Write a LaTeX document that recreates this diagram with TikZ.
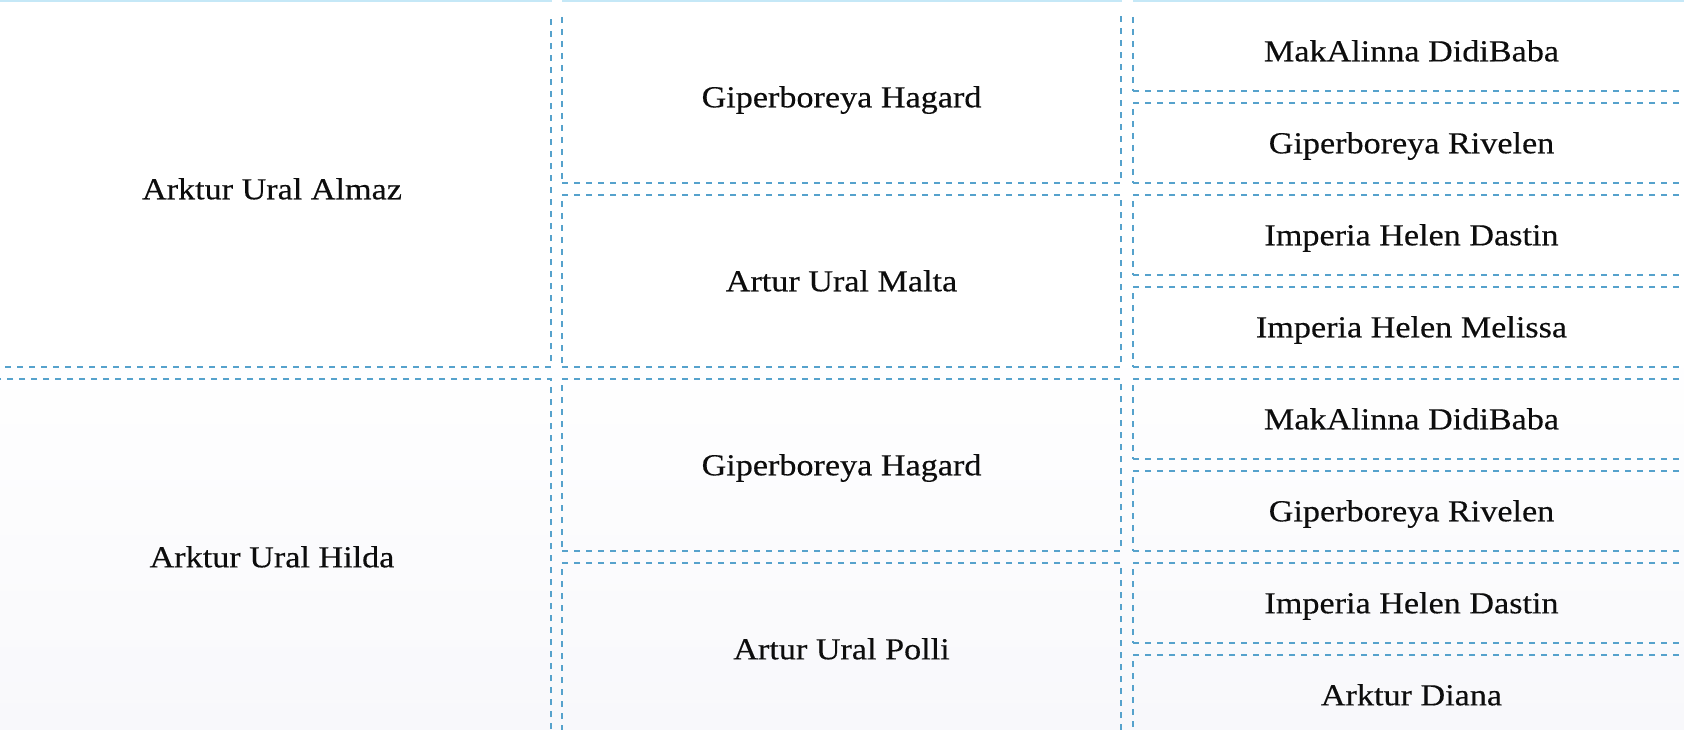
\documentclass[tikz,border=0pt]{standalone}
\usepackage{fontspec}
\setmainfont{Liberation Serif}[FakeStretch=1.12,FakeBold=0.35]
\definecolor{dashblue}{RGB}{86,162,204}
\definecolor{topblue}{RGB}{197,232,247}
\definecolor{bgbot}{RGB}{248,248,251}
\tikzset{
  cell/.style={draw=dashblue, line width=2.2pt, dash pattern=on 6pt off 6pt,
    inner sep=0pt, text height=30pt, text depth=9.4pt,
    font=\fontsize{30.5}{36}\selectfont, text=black!95},
  colA/.style={cell, minimum width=558pt},
  colB/.style={cell, minimum width=559pt},
  colC/.style={cell, minimum width=557pt},
  topline/.style={fill=topblue}
}
\begin{document}
\begin{tikzpicture}[x=1pt,y=-1pt]
\useasboundingbox (0,0) rectangle (1684,730);
\fill[white] (0,0) rectangle (1684,730);
\shade[top color=white, bottom color=bgbot] (0,340) rectangle (1684,730);
\begin{scope}
\clip (0,14) rectangle (1684,730);
% column 1
\node[colA, minimum height=356pt] (a1) at (272,189) {Arktur Ural Almaz};
\node[colA, minimum height=356pt] (a2) at (272,557) {Arktur Ural Hilda};
% column 2
\node[colB, minimum height=172pt] (b1) at (841.5,97) {Giperboreya Hagard};
\node[colB, minimum height=172pt] (b2) at (841.5,281) {Artur Ural Malta};
\node[colB, minimum height=172pt] (b3) at (841.5,465) {Giperboreya Hagard};
\node[colB, minimum height=172pt] (b4) at (841.5,649) {Artur Ural Polli};
% column 3
\node[colC, minimum height=80pt] (c1) at (1411.5,51) {MakAlinna DidiBaba};
\node[colC, minimum height=80pt] (c2) at (1411.5,143) {Giperboreya Rivelen};
\node[colC, minimum height=80pt] (c3) at (1411.5,235) {Imperia Helen Dastin};
\node[colC, minimum height=80pt] (c4) at (1411.5,327) {Imperia Helen Melissa};
\node[colC, minimum height=80pt] (c5) at (1411.5,419) {MakAlinna DidiBaba};
\node[colC, minimum height=80pt] (c6) at (1411.5,511) {Giperboreya Rivelen};
\node[colC, minimum height=80pt] (c7) at (1411.5,603) {Imperia Helen Dastin};
\node[colC, minimum height=80pt] (c8) at (1411.5,695) {Arktur Diana};
\end{scope}
\fill[topline] (0,0) rectangle (552,2);
\fill[topline] (562,0) rectangle (1122,2);
\fill[topline] (1133,0) rectangle (1684,2);
\end{tikzpicture}
\end{document}
